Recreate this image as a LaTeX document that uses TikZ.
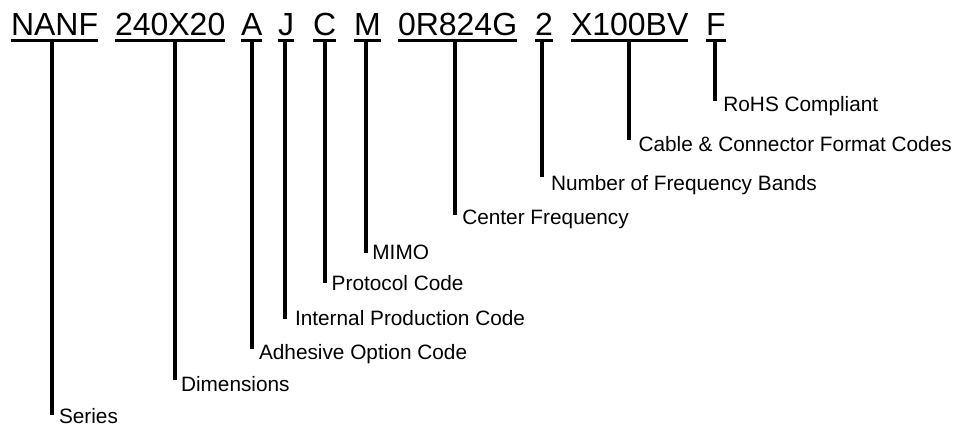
\documentclass[tikz,border=0pt]{standalone}
\usepackage{fontspec}
\setmainfont{Liberation Sans}
\usetikzlibrary{calc}
\tikzset{
  code/.style={anchor=base west, inner sep=0pt, outer sep=0pt, font=\fontsize{32}{38}\selectfont},
  lab/.style={anchor=base west, inner sep=0pt, outer sep=0pt, font=\fontsize{20.8}{24}\selectfont},
  uline/.style={line width=3pt},
  stem/.style={line width=4.2pt}
}
\begin{document}
\begin{tikzpicture}[x=1pt,y=-1pt]
\useasboundingbox (0,0) rectangle (953,426);
% part-number codes
\node[code] (c1) at (11,35.5) {NANF};
\node[code] (c2) at (115,35.5) {240X20};
\node[code] (c3) at (241,35.5) {A};
\node[code] (c4) at (278,35.5) {J};
\node[code] (c5) at (313,35.5) {C};
\node[code] (c6) at (354,35.5) {M};
\node[code] (c7) at (398,35.5) {0R824G};
\node[code] (c8) at (535,35.5) {2};
\node[code] (c9) at (571,35.5) {X100BV};
\node[code] (c10) at (706,35.5) {F};
% labels
\node[lab] (l1) at (59,423.5) {Series};
\node[lab] (l2) at (181,391.7) {Dimensions};
\node[lab] (l3) at (259,359.3) {Adhesive Option Code};
\node[lab] (l4) at (295,325) {Internal Production Code};
\node[lab] (l5) at (331.7,290.7) {Protocol Code};
\node[lab] (l6) at (372.4,259.3) {MIMO};
\node[lab] (l7) at (462.3,224.3) {Center Frequency};
\node[lab] (l8) at (551,190.7) {Number of Frequency Bands};
\node[lab] (l9) at (638.5,151.7) {Cable \& Connector Format Codes};
\node[lab] (l10) at (723.4,111.7) {RoHS Compliant};
% stem ends
\coordinate (b1) at (52,415);
\coordinate (b2) at (175.3,380);
\coordinate (b3) at (251.7,348.5);
\coordinate (b4) at (284.7,319);
\coordinate (b5) at (325.3,283);
\coordinate (b6) at (366,253.3);
\coordinate (b7) at (454.7,215);
\coordinate (b8) at (542,177);
\coordinate (b9) at (629,140);
\coordinate (b10) at (715,100.5);
% underlines and stems
\foreach \i in {1,...,10}{
  \draw[uline] ($(c\i.base west)+(0,5.3)$) -- ($(c\i.base east)+(0,5.3)$);
  \draw[stem] ($(c\i.base -| b\i)+(0,4)$) -- (b\i);
}
\end{tikzpicture}
\end{document}
